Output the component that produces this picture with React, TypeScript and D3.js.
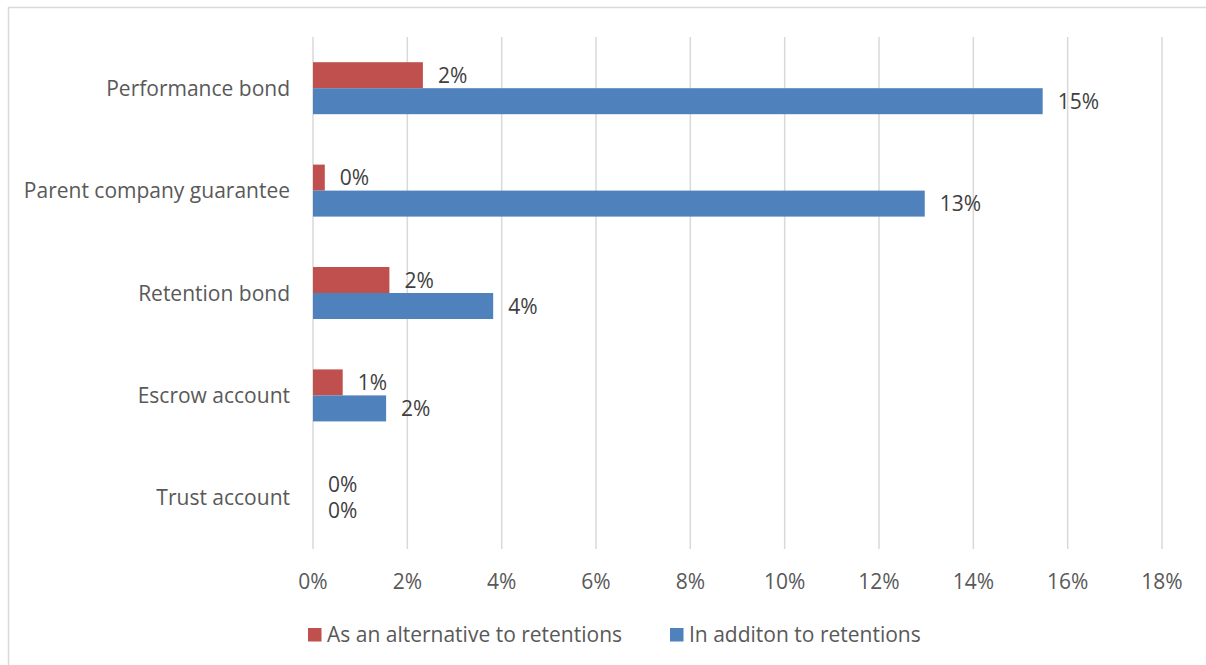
import React from "react";
import * as d3 from "d3";

const categories = ["Performance bond", "Parent company guarantee", "Retention bond", "Escrow account", "Trust account"];
const alternativeValues = [2.33, 0.25, 1.62, 0.63, 0];
const additionValues = [15.47, 12.97, 3.82, 1.55, 0];
const seriesNames = ["As an alternative to retentions", "In additon to retentions"];
const seriesColors = ["#C0504D", "#4F81BD"];
const xTicks = [0, 2, 4, 6, 8, 10, 12, 14, 16, 18];

const W = 1206;
const H = 665;
const FONT = "'Open Sans', 'Liberation Sans', sans-serif";
const FS = 21;

export default function App() {
  const x = d3.scaleLinear().domain([0, 18]).range([313, 1162]);
  const y = d3.scaleBand<string>().domain(categories).range([37, 549]).padding(0);
  const barH = 26;
  const series = [alternativeValues, additionValues];
  const fmt = (v: number) => `${Math.round(v)}%`;

  return (
    <svg
      width={W}
      height={H}
      style={{ position: "fixed", left: 0, top: 0, background: "#fff" }}
      fontFamily={FONT}
    >
      <rect x={8.5} y={7.5} width={1210} height={680} fill="#fff" stroke="#D9D9D9" strokeWidth={1.5} />
      {xTicks.map((t) => (
        <line key={t} x1={x(t)} x2={x(t)} y1={37} y2={549} stroke="#D9D9D9" strokeWidth={1.5} />
      ))}
      {xTicks.map((t) => (
        <text key={"t" + t} x={x(t)} y={589} textAnchor="middle" fontSize={FS} fill="#595959">
          {t}%
        </text>
      ))}
      {categories.map((c) => {
        const cy = (y(c) as number) + y.bandwidth() / 2;
        return (
          <text key={c} x={290} y={cy + 7.5} textAnchor="end" fontSize={FS} fill="#595959">
            {c}
          </text>
        );
      })}
      {series.map((vals, si) =>
        categories.map((c, i) => {
          const cy = (y(c) as number) + y.bandwidth() / 2;
          const top = si === 0 ? cy - barH : cy;
          const v = vals[i];
          return (
            <g key={si + "-" + c}>
              {v > 0 && (
                <rect x={x(0)} y={top} width={x(v) - x(0)} height={barH} fill={seriesColors[si]} />
              )}
              <text x={x(v) + 15} y={top + barH / 2 + 7.5} fontSize={FS} fill="#404040">
                {fmt(v)}
              </text>
            </g>
          );
        })
      )}
      {[
        { sx: 308, tx: 327 },
        { sx: 670, tx: 689 },
      ].map((p, i) => (
        <g key={"lg" + i}>
          <rect x={p.sx} y={628} width={13.5} height={13.5} fill={seriesColors[i]} />
          <text x={p.tx} y={642} fontSize={FS} fill="#595959">
            {seriesNames[i]}
          </text>
        </g>
      ))}
    </svg>
  );
}
